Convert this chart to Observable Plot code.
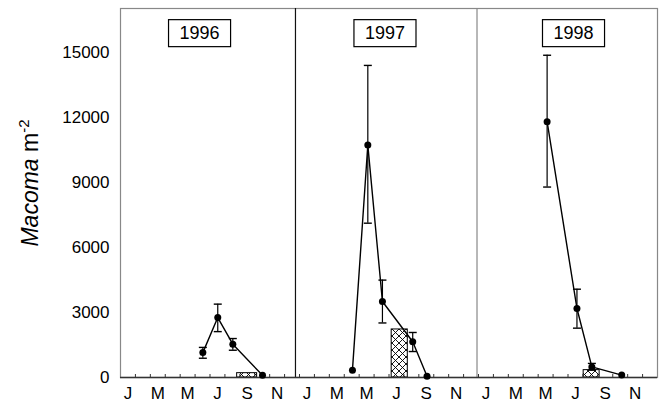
<!DOCTYPE html>
<html><head><meta charset="utf-8">
<script src="https://cdn.jsdelivr.net/npm/d3@7"></script>
<script src="https://cdn.jsdelivr.net/npm/@observablehq/plot@0.6"></script>
<style>
body{margin:0;background:#fff}
svg{font-family:"Liberation Sans",Arial,Helvetica,sans-serif}
</style>
</head><body><div id="chart"></div>
<script>
// ---- data ----
const firstYear = 1996;
const years = ["1996", "1997", "1998"];
// sampling points: year, month position within year (0 = start of Jan), density (Macoma m^-2)
const pointYear  = [1996, 1996, 1996, 1996, 1997, 1997, 1997, 1997, 1997, 1998, 1998, 1998, 1998];
const pointMonth = [5.52, 6.52, 7.53, 9.52, 3.55, 4.58, 5.56, 7.59, 8.55, 4.60, 6.60, 7.60, 9.60];
const density    = [1150, 2770, 1540, 100, 340, 10740, 3510, 1650, 60, 11820, 3190, 490, 110];
const errLow     = [890, 2120, 1260, null, null, 7130, 2520, 1200, null, 8800, 2280, 340, null];
const errHigh    = [1390, 3390, 1800, null, null, 14420, 4500, 2080, null, 14890, 4080, 650, null];
// hatched bars
const barYear  = [1996, 1997, 1998];
const barStart = [7.82, 6.18, 7.05];
const barEnd   = [9.16, 7.26, 8.12];
const barValue = [200, 2220, 340];
// panel dividers (months since Jan 1996) and year-label positions
const dividerMonth = [11.73, 23.9];
const yearLabelMonth = [5.3, 17.73, 30.37];
const yearLabelValue = 15900;
// axis ticks
const yTicks = [0, 3000, 6000, 9000, 12000, 15000];
const monthLetters = ["J", "M", "M", "J", "S", "N"];
const monthLetterIndex = [0, 2, 4, 6, 8, 10];

// ---- derived tables ----
const points = pointYear.map((yr, i) => ({
  year: String(yr), t: (yr - firstYear) * 12 + pointMonth[i],
  v: density[i], lo: errLow[i], hi: errHigh[i]
}));
const errs = points.filter(d => d.lo != null);
const bars = barYear.map((yr, i) => ({
  t1: (yr - firstYear) * 12 + barStart[i], t2: (yr - firstYear) * 12 + barEnd[i], v: barValue[i]
}));
const yearLabels = years.map((y, i) => ({text: y, t: yearLabelMonth[i], v: yearLabelValue}));
const letterTicks = [], letterMap = new Map();
years.forEach((y, k) => monthLetterIndex.forEach((m, j) => {
  const t = k * 12 + m + 0.5; letterTicks.push(t); letterMap.set(t, monthLetters[j]);
}));
const monthTicks = d3.range(1, years.length * 12);

const cap = {draw(ctx, size) { const r = Math.sqrt(size / Math.PI); ctx.moveTo(-r, 0); ctx.lineTo(r, 0); }};

const plot = Plot.plot({
  width: 660, height: 408,
  marginLeft: 120, marginRight: 3, marginTop: 8, marginBottom: 31,
  style: {fontSize: "17px", fontFamily: "Liberation Sans, Arial, sans-serif", color: "#000"},
  x: {domain: [0, years.length * 12]},
  y: {domain: [0, 17050]},
  marks: [
    Plot.rect(bars, {x1: "t1", x2: "t2", y1: () => 0, y2: "v", fill: "url(#xhatch)", stroke: "#000", strokeWidth: 1}),
    Plot.frame({stroke: "#888", strokeWidth: 1.2}),
    Plot.ruleX(dividerMonth, {stroke: (d, i) => i === 0 ? "#111" : "#888", strokeWidth: 1.2}),
    Plot.ruleY([0], {stroke: "#333", strokeWidth: 1.5}),
    Plot.axisY({ticks: yTicks, tickSize: 0, tickPadding: 11, label: null, tickFormat: d => String(d)}),
    Plot.axisX({ticks: letterTicks, tickSize: 0, tickPadding: 9, label: null, tickFormat: d => letterMap.get(d)}),
    Plot.axisX({ticks: monthTicks, tickSize: -3, label: null, tickFormat: () => "", stroke: "#333"}),
    Plot.ruleX(errs, {x: "t", y1: "lo", y2: "hi", stroke: "#000", strokeWidth: 1.2}),
    Plot.dot(errs, {x: "t", y: "lo", symbol: cap, r: 4, stroke: "#000", strokeWidth: 1.4}),
    Plot.dot(errs, {x: "t", y: "hi", symbol: cap, r: 4, stroke: "#000", strokeWidth: 1.4}),
    Plot.line(points, {x: "t", y: "v", z: "year", stroke: "#000", strokeWidth: 1.4}),
    Plot.dot(points, {x: "t", y: "v", r: 3.5, fill: "#000", stroke: "none"}),
    Plot.text(yearLabels, {x: "t", y: "v", text: "text", fontSize: 18, fill: "#000", className: "yearlab"})
  ]
});
document.getElementById("chart").appendChild(plot);

const svg = d3.select(plot);
// hatch pattern
const defs = svg.insert("defs", ":first-child");
const pat = defs.append("pattern").attr("id", "xhatch").attr("patternUnits", "userSpaceOnUse")
  .attr("width", 7).attr("height", 7);
pat.append("rect").attr("width", 7).attr("height", 7).attr("fill", "#fff");
pat.append("path").attr("d", "M0,0L7,7M7,0L0,7M-1,6L1,8M6,-1L8,1").attr("stroke", "#000").attr("stroke-width", 0.9);

// boxes around year labels
svg.selectAll("g.yearlab text").each(function() {
  const b = this.getBBox();
  const r = d3.select(this.parentNode).insert("rect", () => this)
    .attr("x", b.x - 11).attr("y", b.y - 3.5).attr("width", b.width + 22).attr("height", b.height + 7)
    .attr("fill", "#fff").attr("stroke", "#000").attr("stroke-width", 1.2);
  const tr = this.getAttribute("transform");
  if (tr) r.attr("transform", tr);
});

// y-axis title with italic genus and superscript
const yl = svg.append("text").attr("transform", "translate(38,183) rotate(-90)")
  .attr("text-anchor", "middle").attr("font-size", 23).attr("fill", "#000");
yl.append("tspan").attr("font-style", "italic").text("Macoma");
yl.append("tspan").text(" m");
yl.append("tspan").attr("font-size", 15).attr("dy", -9).text("-2");
</script>
</body></html>
